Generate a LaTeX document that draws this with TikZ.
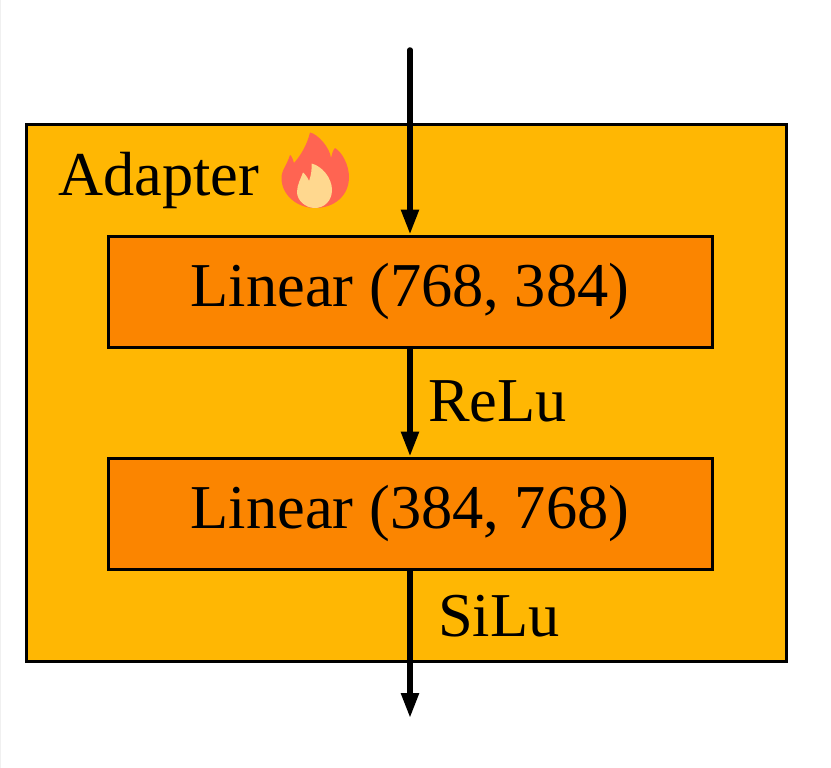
\documentclass[tikz,border=0pt]{standalone}
\usepackage{fontspec}
\setmainfont{Liberation Serif}
\usetikzlibrary{arrows.meta}
\definecolor{adapterfill}{HTML}{FFB703}
\definecolor{linearfill}{HTML}{FB8500}
\definecolor{flameouter}{HTML}{FF6452}
\definecolor{flameinner}{HTML}{FFD88F}
\tikzset{
  linearbox/.style = {draw, line width = 3pt, fill = linearfill, minimum width = 604pt, minimum height = 111pt, inner sep = 0pt, text height = 44pt, text depth = 14pt, font = \fontsize{62.4}{66}\selectfont},
  lbl/.style = {inner sep = 0pt, anchor = base west, font = \fontsize{62.4}{66}\selectfont},
  flow/.style = {line width = 5.5pt, -{Triangle[length = 25pt, width = 17pt]}}
}
\begin{document}
\begin{tikzpicture}[x = 1pt, y = -1pt]
  \useasboundingbox (0, 0) rectangle (831, 768);
  \draw[line width = 1pt, black!6] (0, 0) rectangle (831, 768);
  \node[draw, line width = 3pt, fill = adapterfill, minimum width = 760pt, minimum height = 536pt, inner sep = 0pt] (adapter) at (406, 393) {};
  \node[linearbox] (first) at (410, 291.5) {Linear (768, 384)};
  \node[linearbox] (second) at (410, 513.5) {Linear (384, 768)};
  \coordinate (in) at (410, 50);
  \coordinate (out) at (410, 718);
  \draw[flow, line cap = round] (in) -- (first.north);
  \draw[flow] (first.south) -- (second.north);
  \draw[flow] (second.south) -- (out);
  \node[lbl] (adapterlabel) at (58, 195) {Adapter};
  \node[lbl] (relu) at (428, 421) {ReLu};
  \node[lbl] (silu) at (438, 636) {SiLu};
  % flame
  \fill[flameouter] (310, 132.5) .. controls (318, 134) and (330, 148) .. (331, 158)
    .. controls (332, 154) and (333, 150) .. (335, 148)
    .. controls (342, 152) and (349, 165) .. (349, 177)
    .. controls (349, 196) and (334, 208) .. (315, 208)
    .. controls (297, 208) and (281.5, 195) .. (281.5, 178)
    .. controls (281.5, 170) and (287, 165) .. (290, 155)
    .. controls (292, 156) and (293, 160) .. (294, 163)
    .. controls (301, 155) and (307, 145) .. (310, 132.5) -- cycle;
  \fill[flameinner] (311.5, 163.5) .. controls (322, 166) and (332, 178) .. (332, 190)
    .. controls (332, 201) and (324, 208) .. (315, 208)
    .. controls (305, 208) and (297, 200) .. (297, 192)
    .. controls (297, 185) and (301, 178) .. (303, 172.5)
    .. controls (305, 174) and (308, 178) .. (309, 181)
    .. controls (311, 176) and (312, 170) .. (311.5, 163.5) -- cycle;
\end{tikzpicture}
\end{document}
